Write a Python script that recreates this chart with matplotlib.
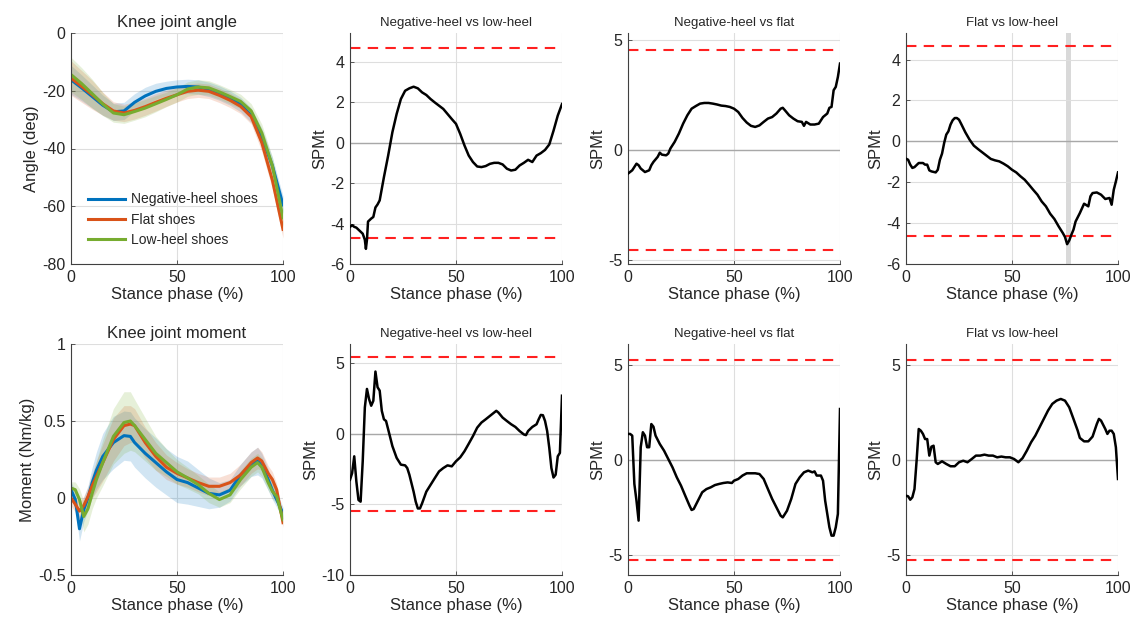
import numpy as np
import matplotlib
matplotlib.use('Agg')
import matplotlib.pyplot as plt

plt.rcParams['font.family'] = ['Liberation Sans', 'DejaVu Sans']
plt.rcParams['axes.unicode_minus'] = False

# ---------------------------------------------------------------- data
series_names = ['Negative-heel shoes', 'Flat shoes', 'Low-heel shoes']
series_colors = ['#0072BD', '#D95319', '#77AC30']

# knee joint angle (deg), mean and sd
x_ang = [0, 5, 10, 15, 20, 25, 30, 35, 40, 45, 50, 55, 60, 65, 70, 75, 80, 85, 90, 95, 100]
ang_neg = [-16.2, -19, -22, -25, -27.3, -27, -24, -21.8, -20.2, -19.2, -18.7, -18.5, -18.7, -19.5, -20.8, -22.5, -24.8, -28.5, -36, -46, -59.5]
ang_flat = [-15.6, -18.5, -21.4, -24.5, -27, -27.7, -26.8, -25.5, -24, -22.6, -21.4, -20.2, -19.8, -20.2, -21.6, -23.3, -25.4, -29, -38, -51, -68]
ang_low = [-14.4, -17.5, -21, -24.6, -27.7, -28.3, -27.2, -26, -24.5, -23, -21.4, -19.4, -18.7, -19, -20.4, -22, -23.7, -27, -34.6, -46, -64]
ang_sd_neg = [5, 4.5, 4, 3.5, 3, 3, 3, 3, 2.8, 2.5, 2.5, 2.5, 2.5, 2.5, 2.5, 2.5, 2.5, 2.5, 3, 3, 3]
ang_sd_flat = [6, 5.5, 5, 4, 3.2, 3, 3, 3, 3, 2.8, 2.5, 2.5, 2.5, 2.5, 2.5, 2.5, 2.5, 2.5, 3, 3, 3]
ang_sd_low = [6, 5.5, 5, 4, 3.2, 3, 3, 3, 2.8, 2.5, 2.5, 2.5, 2.5, 2.5, 2.5, 2.5, 2.5, 2.5, 3, 3, 3]

# knee joint moment (Nm/kg), mean and sd
x_mom = [0, 2, 4, 6, 8, 10, 12, 15, 20, 25, 28, 30, 35, 40, 45, 50, 55, 60, 65, 70, 75, 80, 85, 88, 90, 93, 95, 97, 100]
mom_neg = [0.054, -0.01, -0.2, -0.076, 0.0, 0.1, 0.18, 0.27, 0.36, 0.405, 0.4, 0.36, 0.29, 0.23, 0.17, 0.12, 0.1, 0.065, 0.03, 0.02, 0.05, 0.15, 0.22, 0.24, 0.21, 0.12, 0.05, -0.01, -0.1]
mom_flat = [0.0, -0.04, -0.085, -0.05, 0.01, 0.08, 0.14, 0.23, 0.38, 0.47, 0.48, 0.47, 0.36, 0.27, 0.2, 0.16, 0.13, 0.1, 0.076, 0.076, 0.1, 0.15, 0.23, 0.26, 0.24, 0.16, 0.12, 0.054, -0.16]
mom_low = [0.065, 0.054, -0.01, -0.12, -0.07, 0.03, 0.12, 0.23, 0.4, 0.49, 0.5, 0.47, 0.38, 0.29, 0.23, 0.17, 0.13, 0.087, 0.03, -0.01, 0.02, 0.12, 0.2, 0.23, 0.2, 0.1, 0.043, 0.01, -0.14]
mom_sd_neg = [0.05, 0.06, 0.08, 0.08, 0.08, 0.1, 0.12, 0.15, 0.17, 0.16, 0.16, 0.16, 0.16, 0.16, 0.15, 0.15, 0.14, 0.12, 0.1, 0.08, 0.07, 0.07, 0.08, 0.09, 0.08, 0.07, 0.06, 0.05, 0.04]
mom_sd_flat = [0.05, 0.05, 0.06, 0.06, 0.06, 0.08, 0.1, 0.12, 0.14, 0.13, 0.12, 0.11, 0.1, 0.09, 0.08, 0.07, 0.06, 0.06, 0.06, 0.06, 0.06, 0.07, 0.07, 0.07, 0.06, 0.05, 0.05, 0.04, 0.03]
mom_sd_low = [0.04, 0.05, 0.07, 0.1, 0.1, 0.1, 0.12, 0.15, 0.18, 0.2, 0.19, 0.17, 0.14, 0.11, 0.09, 0.08, 0.07, 0.06, 0.06, 0.05, 0.05, 0.06, 0.06, 0.06, 0.06, 0.05, 0.05, 0.04, 0.03]

# SPM t curves, angle row
x_a1 = [0, 1, 2, 3, 4, 5, 6, 7, 7.5, 8, 8.5, 10, 11, 12, 13, 14] + list(range(16, 101, 2))
t_a1 = [-4.16, -4.08, -4.16, -4.2, -4.3, -4.4, -4.5, -4.8, -5.25, -4.8, -3.9, -3.75, -3.67, -3.2, -3.05, -2.85,
        -1.7, -0.63, 0.53, 1.43, 2.17, 2.58, 2.7, 2.78, 2.7, 2.5, 2.37, 2.17, 2.0, 1.84, 1.68, 1.43, 1.18, 0.94,
        0.44, -0.13, -0.63, -0.95, -1.17, -1.2, -1.15, -1.04, -0.99, -0.99, -1.07, -1.28, -1.37, -1.33, -1.12,
        -0.99, -0.84, -0.95, -0.63, -0.51, -0.35, -0.08, 0.6, 1.35, 1.92]
x_a2 = [0, 2, 4, 5, 6, 8, 10, 11, 12, 14, 15, 16, 18, 19, 20] + list(range(22, 73, 2)) + [73, 74, 76, 78, 80, 82, 83, 84, 86, 88, 90, 92, 94, 95, 96, 97, 98, 99, 100]
t_a2 = [-1.09, -0.94, -0.64, -0.71, -0.86, -1.02, -0.94, -0.71, -0.56, -0.33, -0.14, -0.23, -0.26, -0.18, 0.05,
        0.35, 0.73, 1.18, 1.56, 1.86, 1.98, 2.09, 2.12, 2.12, 2.09, 2.05, 2.0, 1.98, 1.94, 1.86, 1.71, 1.44, 1.23,
        1.08, 1.03, 1.1, 1.26, 1.41, 1.48, 1.64, 1.86, 1.9, 1.79, 1.56, 1.41, 1.29, 1.26, 1.08, 1.26, 1.14, 1.14,
        1.18, 1.48, 1.64, 1.9, 1.94, 2.7, 2.85, 3.3, 3.91]
x_a3 = [0, 1, 2, 3, 4, 6, 8, 9, 10, 11, 12, 14, 15, 16, 17, 18, 19, 20, 21, 22, 23, 24, 25, 26] + list(range(28, 75, 2)) + [75, 76, 77, 78, 79, 80, 82, 84, 86, 87, 88, 90, 92, 94, 96, 97, 98, 99, 100]
t_a3 = [-0.85, -0.9, -1.14, -1.3, -1.26, -1.06, -1.06, -1.14, -1.14, -1.42, -1.47, -1.52, -1.39, -0.9, -0.6,
        -0.08, 0.33, 0.49, 0.82, 1.03, 1.14, 1.14, 1.06, 0.86,
        0.44, 0.08, -0.21, -0.38, -0.54, -0.7, -0.86, -0.93, -0.98, -1.09, -1.22, -1.39, -1.52, -1.71, -1.88,
        -2.12, -2.37, -2.61, -2.94, -3.18, -3.54, -3.8, -4.16, -4.49,
        -4.68, -5.03, -4.85, -4.57, -4.32, -3.92, -3.51, -3.05, -3.18, -2.69, -2.53, -2.5, -2.61, -2.82, -2.77,
        -3.1, -2.37, -1.96, -1.52]

# SPM t curves, moment row
x_m1 = list(range(0, 18)) + [18, 20, 22, 24, 26, 27, 28, 30, 31, 32, 33, 34] + list(range(36, 69, 2)) + [69, 70, 72, 74, 76, 78, 80, 82, 83, 84, 86, 88, 89, 90, 91, 92, 93, 94, 95, 96, 97, 98, 99, 100]
t_m1 = [-3.26, -2.79, -1.6, -3.38, -4.69, -4.81, -1.95, 1.86, 3.17, 2.45, 1.98, 2.33, 4.4, 3.29, 3.05, 1.62, 1.02, 0.9,
        0.31, -0.88, -1.71, -2.19, -2.24, -2.43, -2.9, -4.1, -4.81, -5.29, -5.29, -4.93,
        -4.1, -3.62, -3.14, -2.67, -2.43, -2.24, -2.31, -1.95, -1.67, -1.24, -0.71, -0.17, 0.43, 0.79, 1.02, 1.26, 1.5,
        1.62, 1.5, 1.14, 0.9, 0.67, 0.48, 0.19, -0.05, -0.1, 0.19, 0.48, 0.67,
        1.02, 1.33, 1.31, 0.9, 0.19, -1.0, -2.43, -3.1, -2.9, -1.6, -1.36, 2.69]
x_m2 = list(range(0, 14)) + list(range(15, 30, 2)) + [30] + list(range(31, 50, 2)) + list(range(50, 73, 2)) + list(range(73, 88, 2)) + [88, 89, 91, 92, 93, 95, 96, 97, 98, 99, 100]
t_m2 = [1.37, 1.37, 1.28, -1.26, -2.14, -3.19, 0.67, 1.46, 1.28, 0.67, 0.67, 1.89, 1.75, 1.28,
        0.84, 0.49, 0.05, -0.39, -0.91, -1.35, -1.88, -2.4,
        -2.63, -2.58, -2.14, -1.7, -1.53, -1.44, -1.32, -1.26, -1.21, -1.18, -1.21,
        -1.09, -1.0, -0.82, -0.7, -0.7, -0.7, -0.74, -1.0, -1.53, -2.05, -2.49, -2.93,
        -3.02, -2.67, -2.05, -1.26, -0.91, -0.65, -0.56, -0.65,
        -0.6, -0.82, -0.82, -1.09, -2.14, -3.54, -3.98, -3.98, -3.54, -2.84, 2.68]
x_m3 = list(range(0, 16)) + list(range(17, 56, 2)) + list(range(57, 82, 2)) + [82, 84, 86, 88, 90, 91, 92, 94, 95, 96, 97, 98, 99, 100]
t_m3 = [-1.88, -1.91, -2.09, -1.96, -1.53, -0.04, 1.63, 1.54, 1.37, 1.1, 1.1, 0.23, 0.7, 0.75, -0.12, -0.21,
        -0.07, -0.21, -0.33, -0.33, -0.12, -0.04, -0.12, 0.05, 0.23, 0.23, 0.28, 0.23, 0.23, 0.14, 0.18, 0.14,
        0.14, 0.05, -0.12, 0.1,
        0.49, 0.93, 1.28, 1.72, 2.16, 2.6, 2.95, 3.12, 3.21, 3.12, 2.77, 2.16, 1.54,
        1.16, 0.98, 0.98, 1.23, 1.89, 2.16, 2.07, 1.63, 1.37, 1.54, 1.54, 1.37, 0.67, -1.0]

spm_titles = ['Negative-heel vs low-heel', 'Negative-heel vs flat', 'Flat vs low-heel']
thr_ang = [4.7, 4.55, 4.65]
thr_mom = [5.45, 5.25, 5.27]
ylim_ang = [(-6, 5.44), (-5.2, 5.3), (-6, 5.3)]
ylim_mom = [(-10, 6.35), (-6.05, 6.1), (-6.05, 6.1)]
yticks_ang = [[-6, -4, -2, 0, 2, 4], [-5, 0, 5], [-6, -4, -2, 0, 2, 4]]
yticks_mom = [[-10, -5, 0, 5], [-5, 0, 5], [-5, 0, 5]]
cluster_span = (75.6, 77.8)  # suprathreshold cluster, flat vs low-heel angle

# ---------------------------------------------------------------- figure
W, H = 1139, 633
fig = plt.figure(figsize=(W / 100, H / 100), dpi=100)

col_left = [71, 350, 628, 906]
row_top = [33, 344]
ax_w, ax_h = 212, 231


def make_ax(col, row):
    l = col_left[col] / W
    b = 1 - (row_top[row] + ax_h) / H
    ax = fig.add_axes([l, b, ax_w / W, ax_h / H])
    ax.set_xlim(0, 100)
    ax.set_xticks([0, 50, 100])
    ax.grid(True, color='#dedede', lw=0.8)
    ax.set_axisbelow(True)
    for s in ['top', 'right']:
        ax.spines[s].set_visible(False)
    for s in ['left', 'bottom']:
        ax.spines[s].set_color('#404040')
        ax.spines[s].set_linewidth(0.8)
    ax.tick_params(direction='in', length=3, width=0.6, color='#404040',
                   labelsize=11.5, labelcolor='#262626', pad=4)
    ax.set_xlabel('Stance phase (%)', fontsize=12, color='#262626', labelpad=2)
    return ax


def mean_sd(ax, x, means, sds):
    for m, s, c in zip(means, sds, series_colors):
        m = np.array(m)
        s = np.array(s)
        ax.fill_between(x, m - s, m + s, color=c, alpha=0.18, lw=0)
    lines = []
    for m, c, name in zip(means, series_colors, series_names):
        ln, = ax.plot(x, m, color=c, lw=2.2, label=name)
        lines.append(ln)
    return lines


def spm_panel(ax, x, t, thr, ylim, yticks, title):
    ax.axhline(0, color='#a8a8a8', lw=1, zorder=1)
    ax.plot(x, t, color='black', lw=1.8, zorder=3)
    ax.axhline(thr, color='#ff2020', lw=1.5, ls=(0, (5, 3.5)), zorder=2)
    ax.axhline(-thr, color='#ff2020', lw=1.5, ls=(0, (5, 3.5)), zorder=2)
    ax.set_ylim(*ylim)
    ax.set_yticks(yticks)
    ax.set_ylabel('SPMt', fontsize=12, color='#262626', labelpad=2)
    ax.set_title(title, fontsize=9.5, color='#262626', pad=5)


# knee angle
ax = make_ax(0, 0)
lines = mean_sd(ax, x_ang, [ang_neg, ang_flat, ang_low], [ang_sd_neg, ang_sd_flat, ang_sd_low])
ax.set_ylim(-80, 0)
ax.set_yticks([-80, -60, -40, -20, 0])
ax.set_ylabel('Angle (deg)', fontsize=12, color='#262626', labelpad=2)
ax.set_title('Knee joint angle', fontsize=12, color='#262626', pad=4)
ax.legend(handles=lines, loc='lower left', bbox_to_anchor=(0.02, 0.02), frameon=False,
          fontsize=10, handlelength=2.7, handletextpad=0.4, labelspacing=0.45,
          labelcolor='#262626')

# knee moment
ax = make_ax(0, 1)
mean_sd(ax, x_mom, [mom_neg, mom_flat, mom_low], [mom_sd_neg, mom_sd_flat, mom_sd_low])
ax.set_ylim(-0.5, 1)
ax.set_yticks([-0.5, 0, 0.5, 1])
ax.set_yticklabels(['-0.5', '0', '0.5', '1'])
ax.set_ylabel('Moment (Nm/kg)', fontsize=12, color='#262626', labelpad=2)
ax.set_title('Knee joint moment', fontsize=12, color='#262626', pad=4)

# SPM panels
ang_curves = [(x_a1, t_a1), (x_a2, t_a2), (x_a3, t_a3)]
mom_curves = [(x_m1, t_m1), (x_m2, t_m2), (x_m3, t_m3)]
for i in range(3):
    ax = make_ax(i + 1, 0)
    if i == 2:
        ax.axvspan(*cluster_span, color='#d9d9d9', lw=0, zorder=0.5)
    spm_panel(ax, *ang_curves[i], thr_ang[i], ylim_ang[i], yticks_ang[i], spm_titles[i])
    ax = make_ax(i + 1, 1)
    spm_panel(ax, *mom_curves[i], thr_mom[i], ylim_mom[i], yticks_mom[i], spm_titles[i])

fig.savefig('out.png', dpi=100, facecolor='white')
